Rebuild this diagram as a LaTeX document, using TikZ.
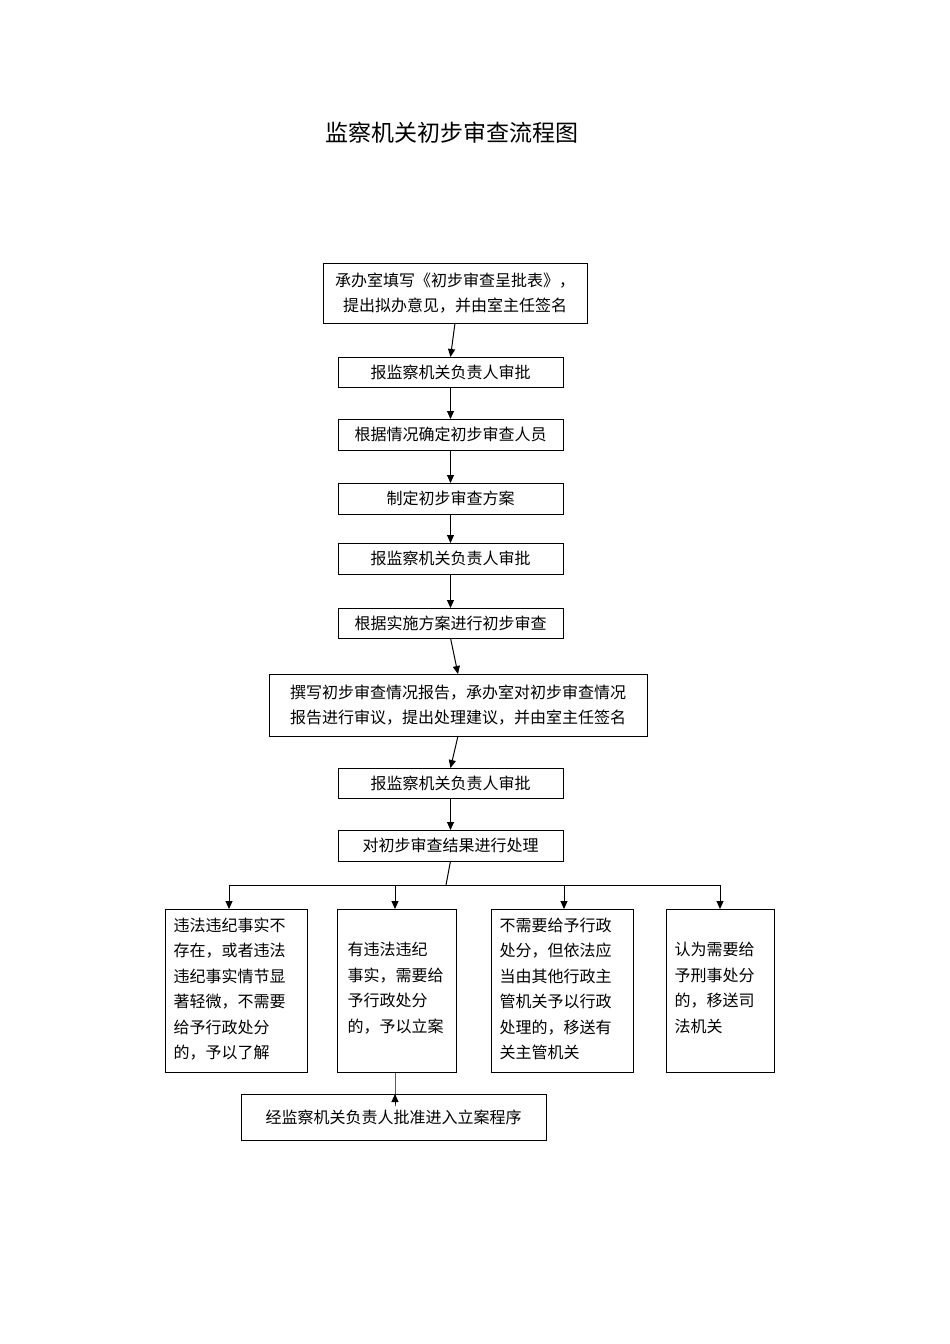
\documentclass[tikz,border=0pt]{standalone}
\usepackage{fontspec}
\newfontfamily\cjk{Noto Sans CJK SC}
\usetikzlibrary{arrows.meta}
\begin{document}
\begin{tikzpicture}[x=1pt,y=-1pt,
  bx/.style={draw,line width=1pt},
  lb/.style={font=\cjk\fontsize{16}{25}\selectfont,align=center},
  lt/.style={font=\cjk\fontsize{16}{25.5}\selectfont,align=left,anchor=north west},
  ar/.style={-{Triangle[length=8pt,width=7pt]},line width=1pt}]
\useasboundingbox (0,0) rectangle (950,1344);
\node[font=\cjk\fontsize{23}{28}\selectfont] (t) at (452,133) {监察机关初步审查流程图};
\def\B#1#2#3#4#5#6{\draw[bx] (#2,#3) rectangle (#4,#5); \node[lb] (#1) at ({(#2+#4)/2},{(#3+#5)/2}) {#6};
 \coordinate (#1t) at ({(#2+#4)/2},#3); \coordinate (#1b) at ({(#2+#4)/2},#5);}
\B{n1}{323}{263}{587}{323}{承办室填写《初步审查呈批表》，\\提出拟办意见，并由室主任签名}
\B{n2}{338}{357}{563}{387}{报监察机关负责人审批}
\B{n3}{338}{419}{563}{450}{根据情况确定初步审查人员}
\B{n4}{338}{483}{563}{514}{制定初步审查方案}
\B{n5}{338}{543}{563}{574}{报监察机关负责人审批}
\B{n6}{338}{608}{563}{638}{根据实施方案进行初步审查}
\B{n7}{269}{674}{647}{736}{撰写初步审查情况报告，承办室对初步审查情况\\报告进行审议，提出处理建议，并由室主任签名}
\B{n8}{338}{768}{563}{798}{报监察机关负责人审批}
\B{n9}{338}{830}{563}{861}{对初步审查结果进行处理}
\B{fin}{241}{1094}{546}{1140}{经监察机关负责人批准进入立案程序}
\foreach \a/\b in {n1/n2,n2/n3,n3/n4,n4/n5,n5/n6,n6/n7,n7/n8,n8/n9}{\draw[ar] (\a b) -- (\b t);}
\draw[bx] (165,909) rectangle (307,1072);
\node[lt] (a) at (170,914) {违法违纪事实不\\存在，或者违法\\违纪事实情节显\\著轻微，不需要\\给予行政处分\\的，予以了解};
\draw[bx] (337,909) rectangle (456,1072);
\node[lt] (b) at (344,939) {有违法违纪\\事实，需要给\\予行政处分\\的，予以立案};
\draw[bx] (491,909) rectangle (633,1072);
\node[lt] (c) at (496,914) {不需要给予行政\\处分，但依法应\\当由其他行政主\\管机关予以行政\\处理的，移送有\\关主管机关};
\draw[bx] (666,909) rectangle (774,1072);
\node[lt] (d) at (671,939) {认为需要给\\予刑事处分\\的，移送司\\法机关};
\coordinate (j) at (446,885);
\draw[line width=1pt] (n9b) -- (j);
\draw[line width=1pt] (229,885) -- (720,885);
\foreach \x in {229,395,564,720}{\draw[ar] (\x,885) -- (\x,909);}
\coordinate (bb) at (395,1072);
\draw[ar] (bb) -- (fin.north -| bb) -- (395,1094);
\end{tikzpicture}
\end{document}
